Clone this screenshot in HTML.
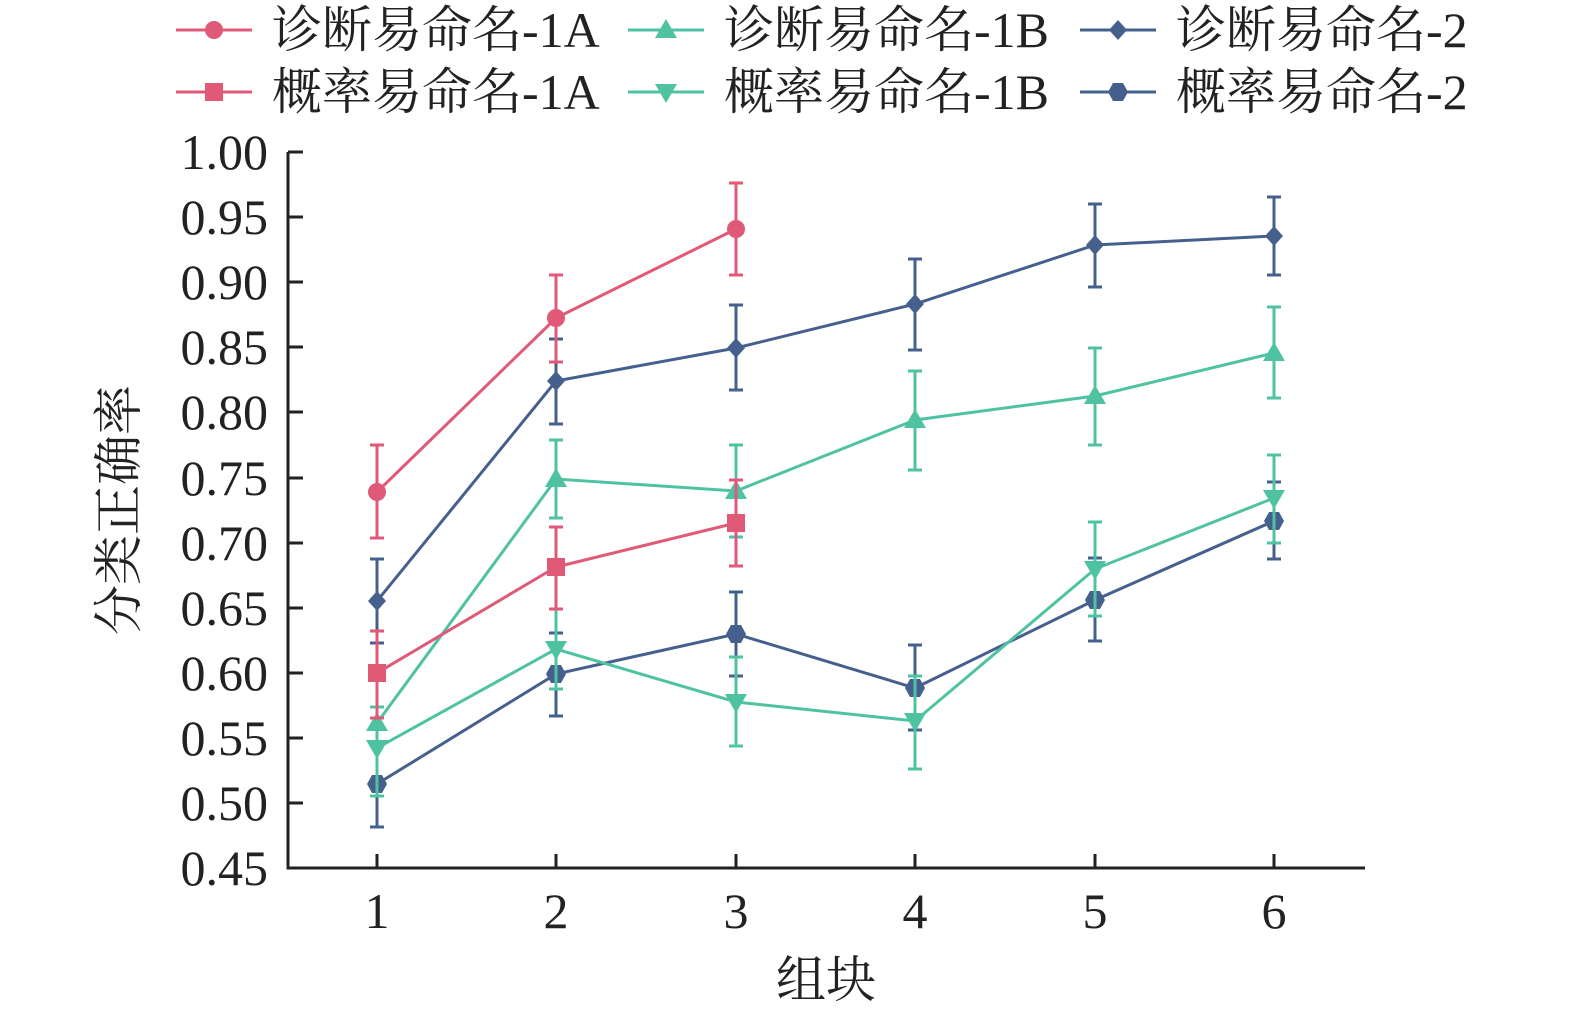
<!DOCTYPE html>
<html><head><meta charset="utf-8"><style>
body{margin:0;background:#fff}
svg text{font-family:"Liberation Serif","Noto Serif CJK SC",serif;fill:#222}
</style></head><body>
<svg width="1575" height="1016" viewBox="0 0 1575 1016" xmlns="http://www.w3.org/2000/svg">
<defs>
<circle id="mc" r="9"/>
<rect id="ms" x="-9" y="-9" width="18" height="18"/>
<polygon id="mu" points="0,-11 11,8 -11,8"/>
<polygon id="md" points="0,11 11,-8 -11,-8"/>
<polygon id="mdi" points="0,-10 9,0 0,10 -9,0"/>
<polygon id="mh" points="-5,-9 5,-9 10,0 5,9 -5,9 -10,0"/>
</defs>
<!-- legend -->
<g font-size="50">
<g stroke-width="3">
<line x1="176" y1="30" x2="252" y2="30" stroke="#e05a78"/><line x1="176" y1="92" x2="252" y2="92" stroke="#e05a78"/>
<line x1="628" y1="30" x2="704" y2="30" stroke="#4fc3a1"/><line x1="628" y1="92" x2="704" y2="92" stroke="#4fc3a1"/>
<line x1="1080" y1="30" x2="1156" y2="30" stroke="#46608e"/><line x1="1080" y1="92" x2="1156" y2="92" stroke="#46608e"/>
</g>
<use href="#mc" x="214" y="30" fill="#e05a78"/><use href="#ms" x="214" y="92" fill="#e05a78"/>
<use href="#mu" x="666" y="30" fill="#4fc3a1"/><use href="#md" x="666" y="92" fill="#4fc3a1"/>
<use href="#mdi" x="1118" y="30" fill="#46608e"/><use href="#mh" x="1118" y="92" fill="#46608e"/>
<text x="272" y="47">诊断易命名-1A</text><text x="272" y="109">概率易命名-1A</text>
<text x="724" y="47">诊断易命名-1B</text><text x="724" y="109">概率易命名-1B</text>
<text x="1176" y="47">诊断易命名-2</text><text x="1176" y="109">概率易命名-2</text>
</g>
<!-- axes -->
<g stroke="#222" stroke-width="3" fill="none">
<polyline points="288,152 288,868 1365,868"/>
<path d="M288 152h15M288 217h15M288 282h15M288 347h15M288 412h15M288 478h15M288 543h15M288 608h15M288 673h15M288 738h15M288 803h15"/>
<path d="M377 868v-14M556 868v-14M736 868v-14M915 868v-14M1095 868v-14M1274 868v-14"/>
</g>
<g font-size="50" text-anchor="end">
<text x="268" y="169">1.00</text><text x="268" y="234">0.95</text><text x="268" y="299">0.90</text><text x="268" y="364">0.85</text><text x="268" y="429">0.80</text><text x="268" y="495">0.75</text><text x="268" y="560">0.70</text><text x="268" y="625">0.65</text><text x="268" y="690">0.60</text><text x="268" y="755">0.55</text><text x="268" y="820">0.50</text><text x="268" y="885">0.45</text>
</g>
<g font-size="50" text-anchor="middle">
<text x="377" y="928">1</text><text x="556" y="928">2</text><text x="736" y="928">3</text><text x="915" y="928">4</text><text x="1095" y="928">5</text><text x="1274" y="928">6</text>
<text x="826" y="997">组块</text>
<text transform="translate(136,510) rotate(-90)">分类正确率</text>
</g>
<!-- Prob-2 blue hexagon -->
<g stroke="#46608e" stroke-width="3" fill="none">
<path d="M377 742v85M370 742h14M370 827h14 M556 633v83M549 633h14M549 716h14 M736 592v84M729 592h14M729 676h14 M915 645v85M908 645h14M908 730h14 M1095 558v83M1088 558h14M1088 641h14 M1274 482v77M1267 482h14M1267 559h14"/>
<polyline points="377,784 556,674 736,634 915,688 1095,600 1274,521"/>
</g>
<g fill="#46608e"><use href="#mh" x="377" y="784"/><use href="#mh" x="556" y="674"/><use href="#mh" x="736" y="634"/><use href="#mh" x="915" y="688"/><use href="#mh" x="1095" y="600"/><use href="#mh" x="1274" y="521"/></g>
<!-- Diag-2 blue diamond -->
<g stroke="#46608e" stroke-width="3" fill="none">
<path d="M377 559v84M370 559h14M370 643h14 M556 339v85M549 339h14M549 424h14 M736 305v85M729 305h14M729 390h14 M915 259v91M908 259h14M908 350h14 M1095 204v83M1088 204h14M1088 287h14 M1274 197v78M1267 197h14M1267 275h14"/>
<polyline points="377,601 556,381 736,348 915,304 1095,245 1274,236"/>
</g>
<g fill="#46608e"><use href="#mdi" x="377" y="601"/><use href="#mdi" x="556" y="381"/><use href="#mdi" x="736" y="348"/><use href="#mdi" x="915" y="304"/><use href="#mdi" x="1095" y="245"/><use href="#mdi" x="1274" y="236"/></g>
<!-- Prob-1B green down -->
<g stroke="#4fc3a1" stroke-width="3" fill="none">
<path d="M377 707v89M370 707h14M370 796h14 M556 609v80M549 609h14M549 689h14 M736 657v89M729 657h14M729 746h14 M915 676v93M908 676h14M908 769h14 M1095 522v94M1088 522h14M1088 616h14 M1274 455v88M1267 455h14M1267 543h14"/>
<polyline points="377,748 556,649 736,702 915,721 1095,569 1274,498"/>
</g>
<g fill="#4fc3a1"><use href="#md" x="377" y="748"/><use href="#md" x="556" y="649"/><use href="#md" x="736" y="702"/><use href="#md" x="915" y="721"/><use href="#md" x="1095" y="569"/><use href="#md" x="1274" y="498"/></g>
<!-- Diag-1B green up -->
<g stroke="#4fc3a1" stroke-width="3" fill="none">
<path d="M556 440v78M549 440h14M549 518h14 M736 445v92M729 445h14M729 537h14 M915 371v99M908 371h14M908 470h14 M1095 348v97M1088 348h14M1088 445h14 M1274 307v91M1267 307h14M1267 398h14"/>
<polyline points="377,723 556,479 736,491 915,420 1095,396 1274,353"/>
</g>
<g fill="#4fc3a1"><use href="#mu" x="377" y="723"/><use href="#mu" x="556" y="479"/><use href="#mu" x="736" y="491"/><use href="#mu" x="915" y="420"/><use href="#mu" x="1095" y="396"/><use href="#mu" x="1274" y="353"/></g>
<!-- Prob-1A red square -->
<g stroke="#e05a78" stroke-width="3" fill="none">
<path d="M377 631v87M370 631h14M370 718h14 M556 527v82M549 527h14M549 609h14 M736 480v86M729 480h14M729 566h14"/>
<polyline points="377,673 556,567 736,523"/>
</g>
<g fill="#e05a78"><use href="#ms" x="377" y="673"/><use href="#ms" x="556" y="567"/><use href="#ms" x="736" y="523"/></g>
<!-- Diag-1A red circle -->
<g stroke="#e05a78" stroke-width="3" fill="none">
<path d="M377 445v93M370 445h14M370 538h14 M556 275v87M549 275h14M549 362h14 M736 183v92M729 183h14M729 275h14"/>
<polyline points="377,492 556,318 736,229"/>
</g>
<g fill="#e05a78"><use href="#mc" x="377" y="492"/><use href="#mc" x="556" y="318"/><use href="#mc" x="736" y="229"/></g>
</svg>
</body></html>
